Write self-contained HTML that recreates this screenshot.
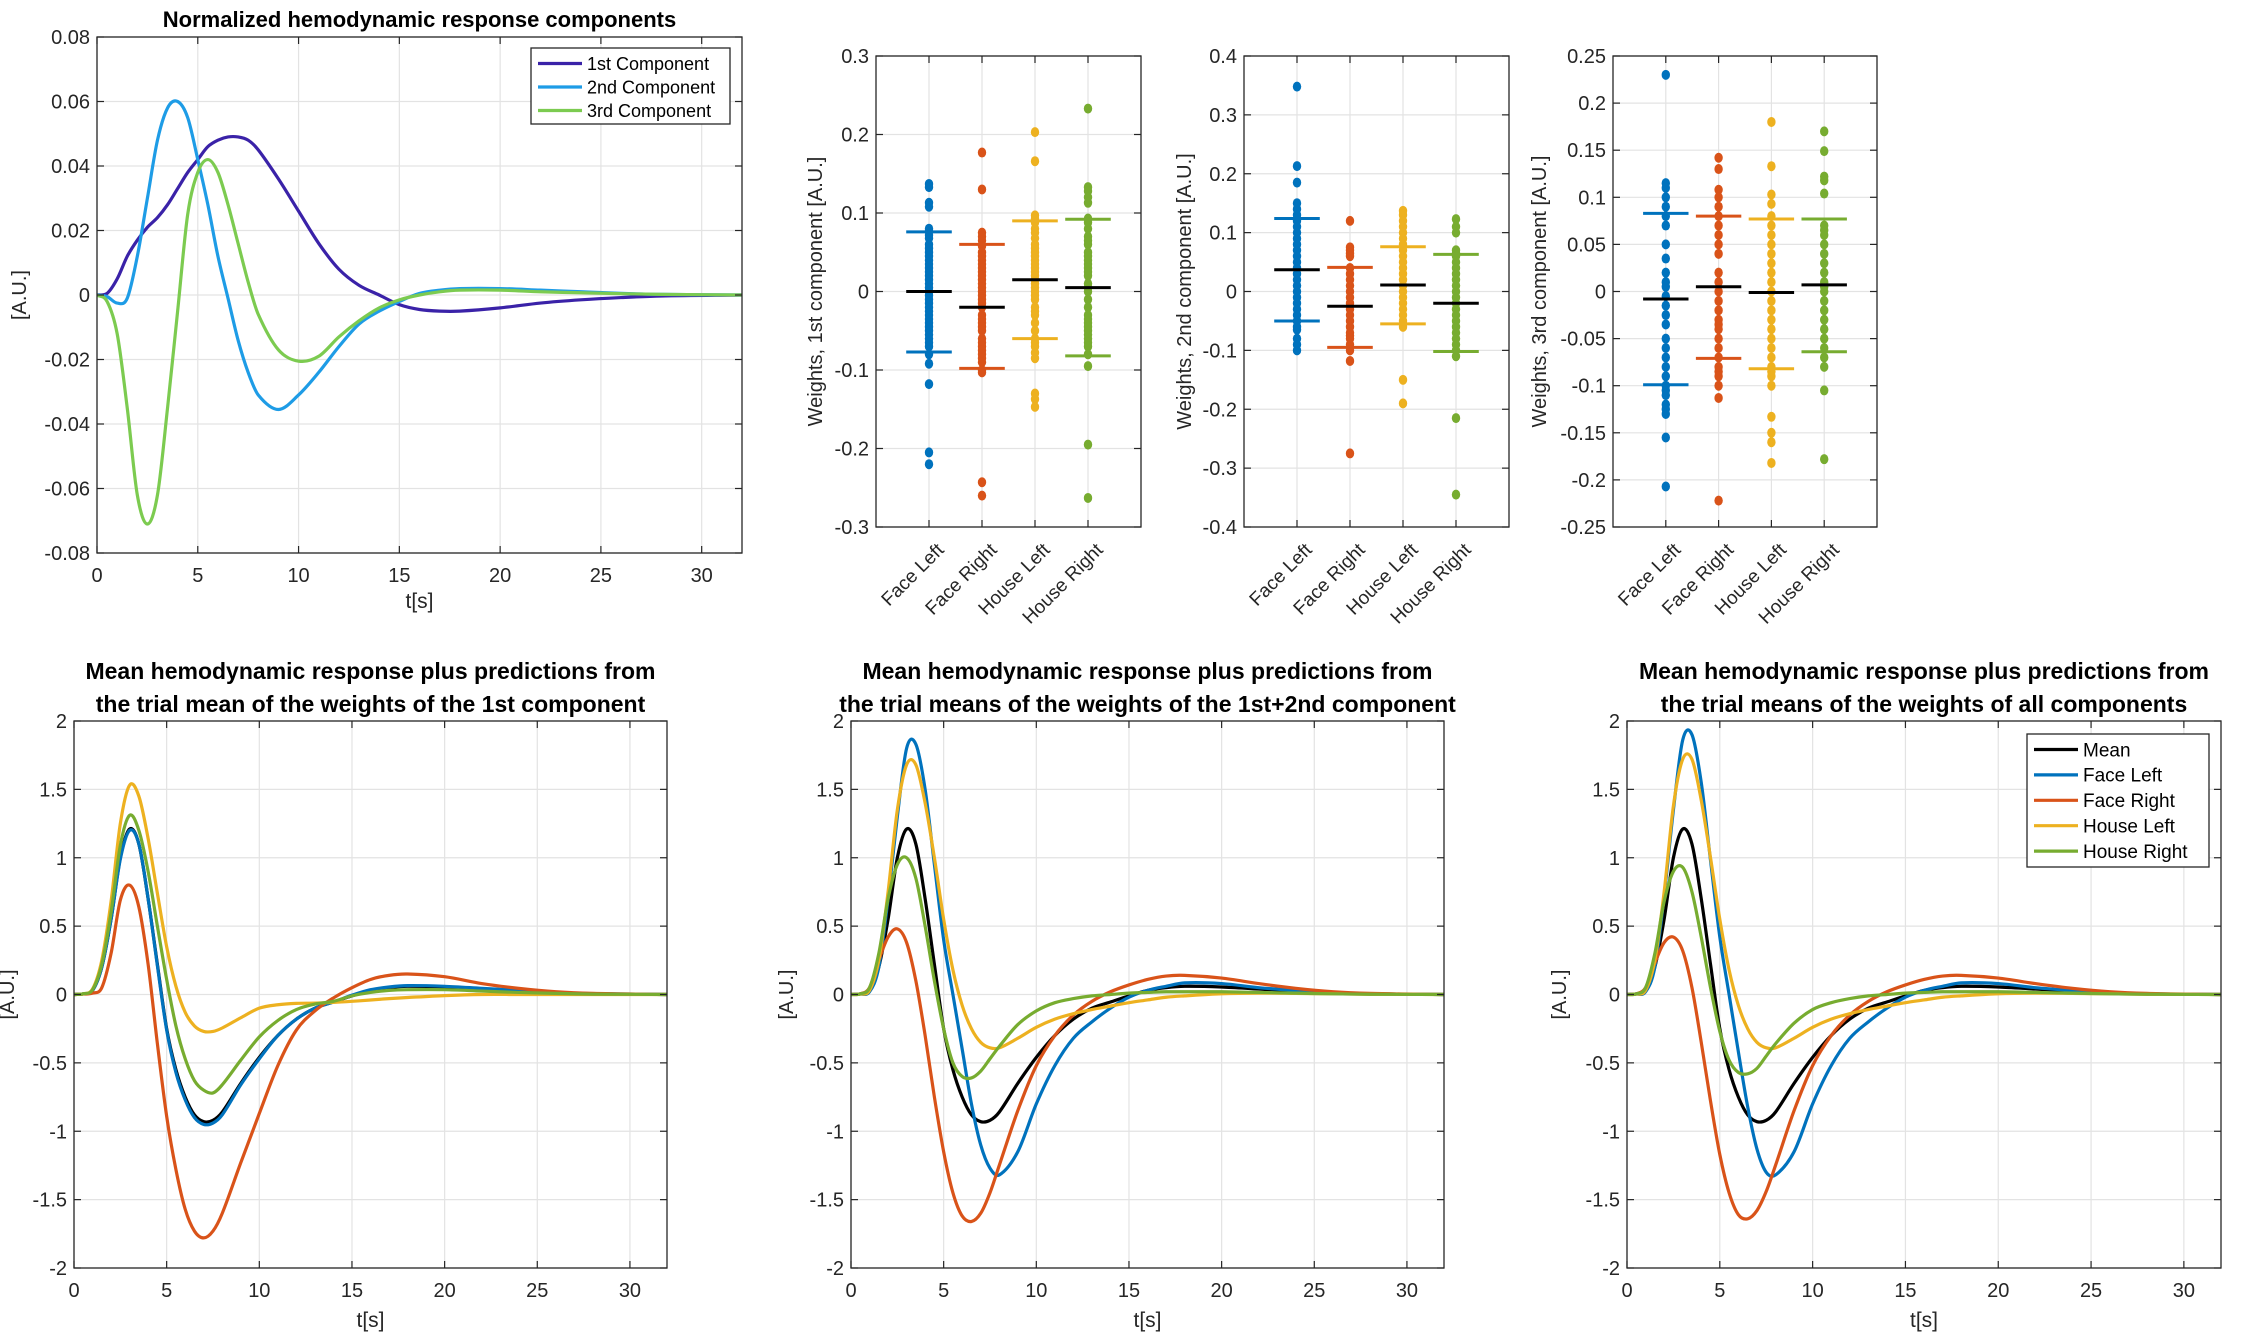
<!DOCTYPE html>
<html><head><meta charset="utf-8"><style>
html,body{margin:0;padding:0;background:#fff}
svg{display:block;font-family:"Liberation Sans",Arial,sans-serif}
</style></head><body>
<svg id="fig" width="2248" height="1334" viewBox="0 0 2248 1334" xmlns="http://www.w3.org/2000/svg"></svg>
<script>
// ---------- shared data ----------
const T = [0,0.5,1,1.5,2,2.5,3,3.5,4,4.5,5,5.5,6,6.5,7,7.5,8,9,10,11,12,13,14,15,16,17,18,20,22,24,26,28,32];
// top-left: components
const comp1 = [0,0.0005,0.005,0.012,0.017,0.021,0.024,0.028,0.033,0.038,0.042,0.046,0.048,0.049,0.049,0.048,0.045,0.036,0.026,0.016,0.008,0.003,0,-0.003,-0.0045,-0.005,-0.005,-0.004,-0.0025,-0.0015,-0.0008,-0.0003,0];
const comp2 = [0,-0.0005,-0.0025,-0.001,0.012,0.03,0.048,0.058,0.06,0.055,0.042,0.028,0.012,-0.001,-0.014,-0.024,-0.031,-0.0355,-0.031,-0.024,-0.016,-0.009,-0.005,-0.002,0.0005,0.0015,0.002,0.002,0.0015,0.001,0.0005,0.0002,0];
const comp3 = [0,-0.002,-0.012,-0.035,-0.062,-0.071,-0.062,-0.035,-0.005,0.025,0.038,0.042,0.038,0.028,0.016,0.004,-0.006,-0.017,-0.0205,-0.019,-0.013,-0.008,-0.004,-0.0015,0,0.001,0.0015,0.0015,0.001,0.0007,0.0004,0.0002,0];
// bottom plots
const meanResp = [0,0.005,0.03,0.2,0.55,1.0,1.21,1.1,0.7,0.22,-0.25,-0.55,-0.75,-0.88,-0.93,-0.92,-0.86,-0.65,-0.46,-0.3,-0.18,-0.1,-0.055,-0.01,0.03,0.05,0.06,0.055,0.04,0.025,0.012,0.005,0];
const b1FaceL = [0,0.005,0.03,0.2,0.55,0.99,1.2,1.1,0.7,0.21,-0.26,-0.57,-0.77,-0.9,-0.95,-0.94,-0.88,-0.66,-0.47,-0.3,-0.18,-0.1,-0.055,-0.005,0.035,0.055,0.065,0.06,0.045,0.03,0.015,0.006,0];
const b1FaceR = [0,0.003,0.01,0.05,0.3,0.69,0.8,0.64,0.22,-0.36,-0.89,-1.28,-1.57,-1.73,-1.78,-1.73,-1.6,-1.23,-0.87,-0.52,-0.26,-0.12,-0.025,0.05,0.11,0.14,0.15,0.13,0.08,0.045,0.02,0.008,0];
const b1HouseL = [0,0.005,0.04,0.25,0.68,1.25,1.53,1.45,1.14,0.74,0.35,0.06,-0.13,-0.23,-0.27,-0.27,-0.245,-0.17,-0.1,-0.075,-0.065,-0.063,-0.058,-0.05,-0.04,-0.03,-0.022,-0.008,0,0,0,0,0];
const b1HouseR = [0,0.005,0.035,0.22,0.6,1.09,1.31,1.2,0.9,0.5,0.11,-0.23,-0.47,-0.63,-0.7,-0.72,-0.66,-0.48,-0.31,-0.19,-0.11,-0.07,-0.05,-0.01,0.015,0.03,0.035,0.035,0.025,0.015,0.008,0.003,0];
const b2FaceL = [0,0.003,0.02,0.2,0.7,1.3,1.8,1.83,1.5,0.95,0.4,0,-0.4,-0.8,-1.1,-1.27,-1.32,-1.15,-0.8,-0.52,-0.32,-0.2,-0.1,-0.02,0.03,0.06,0.085,0.08,0.05,0.03,0.015,0.005,0];
const b2FaceR = [0,0.005,0.05,0.25,0.42,0.48,0.38,0.1,-0.3,-0.75,-1.15,-1.45,-1.62,-1.66,-1.6,-1.45,-1.25,-0.85,-0.52,-0.3,-0.15,-0.05,0.02,0.07,0.11,0.135,0.14,0.12,0.08,0.045,0.02,0.008,0];
const b2HouseL = [0,0.003,0.03,0.25,0.75,1.35,1.68,1.68,1.4,1.0,0.55,0.18,-0.08,-0.25,-0.35,-0.39,-0.39,-0.32,-0.24,-0.18,-0.14,-0.11,-0.085,-0.06,-0.04,-0.02,-0.01,0.005,0.01,0.008,0.005,0.002,0];
const b2HouseR = [0,0.005,0.05,0.3,0.7,0.95,1.0,0.85,0.5,0.1,-0.25,-0.5,-0.6,-0.61,-0.56,-0.47,-0.38,-0.22,-0.12,-0.06,-0.03,-0.01,0,0.01,0.015,0.02,0.02,0.02,0.015,0.01,0.005,0.002,0];
const b3FaceL = [0,0.003,0.02,0.2,0.72,1.35,1.86,1.9,1.55,0.98,0.42,0,-0.42,-0.82,-1.13,-1.3,-1.32,-1.15,-0.8,-0.52,-0.32,-0.2,-0.1,-0.02,0.03,0.06,0.085,0.08,0.05,0.03,0.015,0.005,0];
const b3FaceR = [0,0.005,0.05,0.23,0.38,0.42,0.32,0.05,-0.35,-0.78,-1.17,-1.45,-1.61,-1.64,-1.58,-1.44,-1.25,-0.85,-0.52,-0.3,-0.15,-0.05,0.02,0.07,0.11,0.135,0.14,0.12,0.08,0.045,0.02,0.008,0];
const b3HouseL = [0,0.003,0.03,0.25,0.75,1.38,1.72,1.72,1.42,1.0,0.55,0.18,-0.08,-0.25,-0.35,-0.39,-0.39,-0.32,-0.24,-0.18,-0.14,-0.11,-0.085,-0.06,-0.04,-0.02,-0.01,0.005,0.01,0.008,0.005,0.002,0];
const b3HouseR = [0,0.005,0.05,0.3,0.68,0.9,0.93,0.75,0.42,0.05,-0.27,-0.48,-0.57,-0.58,-0.54,-0.45,-0.36,-0.21,-0.11,-0.06,-0.03,-0.01,0,0.01,0.015,0.02,0.02,0.02,0.015,0.01,0.005,0.002,0];

const timeTicks = [0,5,10,15,20,25,30];
const timeTickLabels = ['0','5','10','15','20','25','30'];
const compTicks = [-0.08,-0.06,-0.04,-0.02,0,0.02,0.04,0.06,0.08];
const compTickLabels = ['-0.08','-0.06','-0.04','-0.02','0','0.02','0.04','0.06','0.08'];
const respTicks = [-2,-1.5,-1,-0.5,0,0.5,1,1.5,2];
const respTickLabels = ['-2','-1.5','-1','-0.5','0','0.5','1','1.5','2'];

// scatter data
const categories = ['Face Left','Face Right','House Left','House Right'];
const w1FL = [0.137,0.133,0.113,0.108,0.08,0.077,0.072,0.068,0.06,0.055,0.05,0.045,0.04,0.035,0.03,0.025,0.02,0.015,0.01,0.005,0,-0.005,-0.01,-0.015,-0.02,-0.025,-0.03,-0.035,-0.04,-0.045,-0.05,-0.055,-0.06,-0.065,-0.07,-0.08,-0.092,-0.118,-0.205,-0.22];
const w1FR = [0.177,0.13,0.075,0.07,0.065,0.058,0.05,0.045,0.04,0.035,0.03,0.025,0.02,0.015,0.01,0.005,0,-0.005,-0.01,-0.015,-0.02,-0.03,-0.035,-0.04,-0.045,-0.05,-0.06,-0.065,-0.07,-0.075,-0.08,-0.085,-0.09,-0.1,-0.103,-0.243,-0.26];
const w1HL = [0.203,0.166,0.097,0.093,0.088,0.08,0.075,0.068,0.06,0.055,0.05,0.045,0.04,0.035,0.03,0.025,0.02,0.015,0.01,0.005,0,-0.005,-0.01,-0.02,-0.025,-0.03,-0.04,-0.05,-0.06,-0.065,-0.07,-0.078,-0.085,-0.13,-0.137,-0.147];
const w1HR = [0.233,0.133,0.128,0.12,0.113,0.093,0.088,0.08,0.07,0.065,0.06,0.05,0.045,0.04,0.035,0.03,0.025,0.02,0.01,0.005,0,-0.01,-0.02,-0.03,-0.035,-0.04,-0.045,-0.05,-0.055,-0.06,-0.065,-0.07,-0.08,-0.095,-0.195,-0.263];
const w1Mean = [0,-0.02,0.015,0.005];
const w1Upper = [0.076,0.06,0.09,0.092];
const w1Lower = [-0.077,-0.098,-0.06,-0.082];

const w2FL = [0.348,0.213,0.185,0.15,0.14,0.13,0.12,0.11,0.1,0.09,0.08,0.07,0.06,0.05,0.04,0.03,0.02,0.01,0,-0.01,-0.02,-0.03,-0.04,-0.05,-0.06,-0.065,-0.08,-0.09,-0.1];
const w2FR = [0.12,0.075,0.07,0.065,0.06,0.04,0.03,0.02,0.01,0,-0.01,-0.02,-0.03,-0.04,-0.05,-0.06,-0.07,-0.075,-0.08,-0.09,-0.1,-0.118,-0.275];
const w2HL = [0.137,0.13,0.12,0.11,0.1,0.09,0.08,0.07,0.06,0.05,0.04,0.03,0.02,0.01,0,-0.01,-0.02,-0.03,-0.04,-0.05,-0.06,-0.15,-0.19];
const w2HR = [0.123,0.11,0.1,0.07,0.065,0.06,0.05,0.04,0.03,0.02,0.01,0,-0.01,-0.02,-0.03,-0.04,-0.05,-0.06,-0.07,-0.08,-0.09,-0.1,-0.11,-0.215,-0.345];
const w2Mean = [0.037,-0.025,0.011,-0.02];
const w2Upper = [0.124,0.041,0.076,0.063];
const w2Lower = [-0.05,-0.095,-0.055,-0.102];

const w3FL = [0.23,0.115,0.11,0.1,0.09,0.08,0.07,0.05,0.035,0.02,0.01,0.005,-0.005,-0.015,-0.025,-0.035,-0.05,-0.06,-0.07,-0.08,-0.09,-0.1,-0.105,-0.11,-0.12,-0.125,-0.13,-0.155,-0.207];
const w3FR = [0.142,0.13,0.108,0.1,0.09,0.08,0.07,0.06,0.05,0.04,0.02,0.01,0,-0.01,-0.02,-0.03,-0.035,-0.04,-0.05,-0.06,-0.07,-0.08,-0.085,-0.09,-0.1,-0.113,-0.222];
const w3HL = [0.18,0.133,0.103,0.093,0.08,0.07,0.06,0.05,0.04,0.03,0.02,0.01,0,-0.01,-0.02,-0.03,-0.04,-0.05,-0.06,-0.07,-0.08,-0.085,-0.09,-0.1,-0.133,-0.15,-0.16,-0.182];
const w3HR = [0.17,0.149,0.122,0.118,0.104,0.07,0.065,0.06,0.05,0.04,0.03,0.02,0.01,0.005,0,-0.01,-0.02,-0.03,-0.04,-0.05,-0.06,-0.07,-0.08,-0.105,-0.178];
const w3Mean = [-0.008,0.005,-0.001,0.007];
const w3Upper = [0.083,0.08,0.077,0.077];
const w3Lower = [-0.099,-0.071,-0.082,-0.064];

const w1Ticks = [-0.3,-0.2,-0.1,0,0.1,0.2,0.3];
const w1TickLabels = ['-0.3','-0.2','-0.1','0','0.1','0.2','0.3'];
const w2Ticks = [-0.4,-0.3,-0.2,-0.1,0,0.1,0.2,0.3,0.4];
const w2TickLabels = ['-0.4','-0.3','-0.2','-0.1','0','0.1','0.2','0.3','0.4'];
const w3Ticks = [-0.25,-0.2,-0.15,-0.1,-0.05,0,0.05,0.1,0.15,0.2,0.25];
const w3TickLabels = ['-0.25','-0.2','-0.15','-0.1','-0.05','0','0.05','0.1','0.15','0.2','0.25'];

// ---------- drawing ----------
const NS = 'http://www.w3.org/2000/svg';
const fig = document.getElementById('fig');
function mk(parent, tag, attrs, text) {
  const e = document.createElementNS(NS, tag);
  for (const k in attrs) e.setAttribute(k, attrs[k]);
  if (text !== undefined) e.textContent = text;
  parent.appendChild(e);
  return e;
}
const C = {blue:'#0072BD', red:'#D95319', yellow:'#EDB120', green:'#77AC30', black:'#000000'};

function makeAxes(name, box, xlim, ylim, xticks, xlabels, yticks, ylabels, opts) {
  const g = mk(fig, 'g', {});
  
  
  const sx = v => box.l + (v - xlim[0]) / (xlim[1] - xlim[0]) * (box.r - box.l);
  const sy = v => box.b - (v - ylim[0]) / (ylim[1] - ylim[0]) * (box.b - box.t);
  const grid = mk(g, 'g', {});
  
  
  xticks.forEach(v => { const x = sx(v); mk(grid, 'line', {x1:x, x2:x, y1:box.t, y2:box.b, stroke:'#e3e3e3', 'stroke-width':1.2}); });
  yticks.forEach(v => { const y = sy(v); mk(grid, 'line', {x1:box.l, x2:box.r, y1:y, y2:y, stroke:'#e3e3e3', 'stroke-width':1.2}); });
  const plot = mk(g, 'g', {});
  
  
  const ax = mk(g, 'g', {});
  const fs = opts.fs || 20;
  xticks.forEach((v, i) => {
    const x = sx(v);
    mk(ax, 'line', {x1:x, x2:x, y1:box.b, y2:box.b - 7, stroke:'#262626', 'stroke-width':1.2});
    mk(ax, 'line', {x1:x, x2:x, y1:box.t, y2:box.t + 7, stroke:'#262626', 'stroke-width':1.2});
    if (opts.rotX) {
      const tx = x + 16, ty = box.b + 24;
      const t = mk(ax, 'text', {x:tx, y:ty, 'font-size':19, fill:'#262626', 'text-anchor':'end', transform:`rotate(-45 ${tx} ${ty})`}, xlabels[i]);
      
      
    } else {
      const t = mk(ax, 'text', {x:x, y:box.b + 29, 'font-size':fs, fill:'#262626', 'text-anchor':'middle'}, xlabels[i]);
      
      
    }
  });
  yticks.forEach((v, i) => {
    const y = sy(v);
    mk(ax, 'line', {x1:box.l, x2:box.l + 7, y1:y, y2:y, stroke:'#262626', 'stroke-width':1.2});
    mk(ax, 'line', {x1:box.r, x2:box.r - 7, y1:y, y2:y, stroke:'#262626', 'stroke-width':1.2});
    const t = mk(ax, 'text', {x:box.l - 7, y:y + 7, 'font-size':fs, fill:'#262626', 'text-anchor':'end'}, ylabels[i]);
    
    
  });
  mk(ax, 'rect', {x:box.l, y:box.t, width:box.r - box.l, height:box.b - box.t, fill:'none', stroke:'#262626', 'stroke-width':1.3});
  if (opts.ylabel) {
    const t = mk(ax, 'text', {x:opts.ylx, y:(box.t + box.b) / 2, 'font-size':fs, fill:'#262626', 'text-anchor':'middle', transform:`rotate(-90 ${opts.ylx} ${(box.t + box.b) / 2})`}, opts.ylabel);
    
    
  }
  if (opts.xlabel) {
    const t = mk(ax, 'text', {x:(box.l + box.r) / 2, y:opts.xly, 'font-size':fs + 1, fill:'#262626', 'text-anchor':'middle'}, opts.xlabel);
    
    
  }
  if (opts.title) {
    opts.title.forEach((line, i) => {
      const t = mk(g, 'text', {x:(box.l + box.r) / 2, y:opts.ty + i * 33, 'font-size':opts.tfs || 23, 'font-weight':'bold', fill:'#000', 'text-anchor':'middle'}, line);
      
      
    });
  }
  return {g, plot, sx, sy, box};
}

// cubic Hermite spline (non-uniform aware) in pixel space
function smoothPath(xs, ys, sx, sy) {
  const P = xs.map((x, i) => [sx(x), sy(ys[i])]);
  const n = P.length;
  const m = P.map((p, i) => {
    const a = P[Math.max(0, i - 1)], b = P[Math.min(n - 1, i + 1)];
    return (b[1] - a[1]) / (b[0] - a[0]);
  });
  let d = `M${P[0][0].toFixed(2)},${P[0][1].toFixed(2)}`;
  for (let i = 0; i < n - 1; i++) {
    const h = P[i + 1][0] - P[i][0];
    const c1 = [P[i][0] + h / 3, P[i][1] + m[i] * h / 3];
    const c2 = [P[i + 1][0] - h / 3, P[i + 1][1] - m[i + 1] * h / 3];
    d += ` C${c1[0].toFixed(2)},${c1[1].toFixed(2)} ${c2[0].toFixed(2)},${c2[1].toFixed(2)} ${P[i + 1][0].toFixed(2)},${P[i + 1][1].toFixed(2)}`;
  }
  return d;
}

function lineChart(name, box, series, opts) {
  const a = makeAxes(name, box, [0, 32], opts.ylim, timeTicks, timeTickLabels, opts.yticks, opts.ylabels, opts);
  const clip = mk(fig, 'clipPath', {id:'clip-' + name});
  mk(clip, 'rect', {x:box.l, y:box.t, width:box.r - box.l, height:box.b - box.t});
  a.plot.setAttribute('clip-path', `url(#clip-${name})`);
  series.forEach(s => {
    const p = mk(a.plot, 'path', {d:smoothPath(T, s.v, a.sx, a.sy), fill:'none', stroke:s.c, 'stroke-width':3.2, 'stroke-linejoin':'round'});
    
    
  });
  return a;
}

function legend(name, x, y, w, h, entries, rowH, fs) {
  const g = mk(fig, 'g', {});
  
  
  mk(g, 'rect', {x, y, width:w, height:h, fill:'#fff', stroke:'#262626', 'stroke-width':1.3});
  entries.forEach((e, i) => {
    const cy = y + 15.5 + i * rowH;
    const ln = mk(g, 'line', {x1:x + 7, x2:x + 51, y1:cy, y2:cy, stroke:e.c, 'stroke-width':3.2});
    
    
    const t = mk(g, 'text', {x:x + 56, y:cy + fs * 0.36, 'font-size':fs, fill:'#000'}, e.n);
    
    
  });
}

// top-left
lineChart('components-chart', {l:97, r:742, t:37, b:553},
  [{v:comp1, c:'#3A22A8', n:'line-1st-component'}, {v:comp2, c:'#1E9CE6', n:'line-2nd-component'}, {v:comp3, c:'#7CCB50', n:'line-3rd-component'}],
  {ylim:[-0.08, 0.08], yticks:compTicks, ylabels:compTickLabels, ylabel:'[A.U.]', ylx:26, xlabel:'t[s]', xly:608, title:['Normalized hemodynamic response components'], ty:27, tfs:22});
legend('components-legend', 531, 48, 199, 76, [{n:'1st Component', c:'#3A22A8'}, {n:'2nd Component', c:'#1E9CE6'}, {n:'3rd Component', c:'#7CCB50'}], 23.5, 18);

// scatter charts
function scatterChart(name, box, ylim, yticks, ylabels, groups, means, upper, lower, ylabel, ylx) {
  const a = makeAxes(name, box, [0, 5], ylim, [1, 2, 3, 4], categories, yticks, ylabels, {rotX:true, ylabel, ylx});
  const cols = [C.blue, C.red, C.yellow, C.green];
  const half = 0.43;
  groups.forEach((vals, gi) => {
    const x = a.sx(gi + 1);
    const g = mk(a.plot, 'g', {});
    
    
    vals.forEach(v => {
      const c = mk(g, 'ellipse', {cx:x, cy:a.sy(v), rx:4.2, ry:5, fill:cols[gi]});
      
      
    });
    const u = mk(a.plot, 'line', {x1:a.sx(gi + 1 - half), x2:a.sx(gi + 1 + half), y1:a.sy(upper[gi]), y2:a.sy(upper[gi]), stroke:cols[gi], 'stroke-width':3});
    
    
    const l = mk(a.plot, 'line', {x1:a.sx(gi + 1 - half), x2:a.sx(gi + 1 + half), y1:a.sy(lower[gi]), y2:a.sy(lower[gi]), stroke:cols[gi], 'stroke-width':3});
    
    
    const m = mk(a.plot, 'line', {x1:a.sx(gi + 1 - half), x2:a.sx(gi + 1 + half), y1:a.sy(means[gi]), y2:a.sy(means[gi]), stroke:'#000', 'stroke-width':3});
    
    
  });
}
scatterChart('weights-1st-chart', {l:876, r:1141, t:56, b:527}, [-0.3, 0.3], w1Ticks, w1TickLabels, [w1FL, w1FR, w1HL, w1HR], w1Mean, w1Upper, w1Lower, 'Weights, 1st component [A.U.]', 822);
scatterChart('weights-2nd-chart', {l:1244, r:1509, t:56, b:527}, [-0.4, 0.4], w2Ticks, w2TickLabels, [w2FL, w2FR, w2HL, w2HR], w2Mean, w2Upper, w2Lower, 'Weights, 2nd component [A.U.]', 1191);
scatterChart('weights-3rd-chart', {l:1613, r:1877, t:56, b:527}, [-0.25, 0.25], w3Ticks, w3TickLabels, [w3FL, w3FR, w3HL, w3HR], w3Mean, w3Upper, w3Lower, 'Weights, 3rd component [A.U.]', 1546);

// bottom charts
const bOpts = (title, ylx) => ({ylim:[-2, 2], yticks:respTicks, ylabels:respTickLabels, ylabel:'[A.U.]', ylx, xlabel:'t[s]', xly:1327, title, ty:679});
lineChart('prediction-1st-chart', {l:74, r:667, t:721, b:1268},
  [{v:meanResp, c:C.black, n:'line-mean'}, {v:b1FaceL, c:C.blue, n:'line-face-left'}, {v:b1FaceR, c:C.red, n:'line-face-right'}, {v:b1HouseL, c:C.yellow, n:'line-house-left'}, {v:b1HouseR, c:C.green, n:'line-house-right'}],
  bOpts(['Mean hemodynamic response plus predictions from', 'the trial mean of the weights of the 1st component'], 14));
lineChart('prediction-1st2nd-chart', {l:851, r:1444, t:721, b:1268},
  [{v:meanResp, c:C.black, n:'line-mean'}, {v:b2FaceL, c:C.blue, n:'line-face-left'}, {v:b2FaceR, c:C.red, n:'line-face-right'}, {v:b2HouseL, c:C.yellow, n:'line-house-left'}, {v:b2HouseR, c:C.green, n:'line-house-right'}],
  bOpts(['Mean hemodynamic response plus predictions from', 'the trial means of the weights of the 1st+2nd component'], 793));
lineChart('prediction-all-chart', {l:1627, r:2221, t:721, b:1268},
  [{v:meanResp, c:C.black, n:'line-mean'}, {v:b3FaceL, c:C.blue, n:'line-face-left'}, {v:b3FaceR, c:C.red, n:'line-face-right'}, {v:b3HouseL, c:C.yellow, n:'line-house-left'}, {v:b3HouseR, c:C.green, n:'line-house-right'}],
  bOpts(['Mean hemodynamic response plus predictions from', 'the trial means of the weights of all components'], 1566));
legend('predictions-legend', 2027, 734, 182, 133, [{n:'Mean', c:C.black}, {n:'Face Left', c:C.blue}, {n:'Face Right', c:C.red}, {n:'House Left', c:C.yellow}, {n:'House Right', c:C.green}], 25.4, 19);
</script>
</body></html>
